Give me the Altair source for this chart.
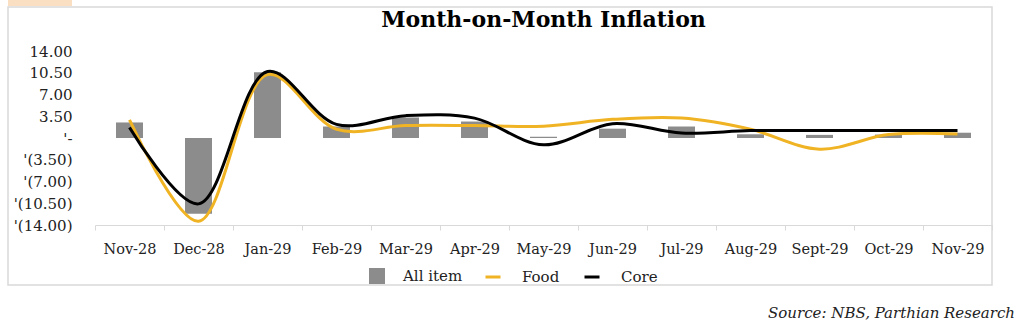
import json
import altair as alt
import pandas as pd

months = ["Nov-28", "Dec-28", "Jan-29", "Feb-29", "Mar-29", "Apr-29", "May-29",
          "Jun-29", "Jul-29", "Aug-29", "Sept-29", "Oct-29", "Nov-29"]
all_item = [2.5, -12.2, 10.6, 1.85, 3.3, 2.65, 0.2, 1.5, 1.85, 0.6, 0.5, 0.55, 0.85]
food = [2.9, -13.4, 10.2, 1.4, 2.0, 2.0, 1.9, 3.0, 3.2, 1.4, -1.8, 0.55, 0.65]
core = [1.7, -10.6, 10.7, 2.2, 3.6, 3.2, -1.1, 2.3, 0.8, 1.2, 1.2, 1.2, 1.2]

y_ticks = [-14, -10.5, -7, -3.5, 0, 3.5, 7, 10.5, 14]
y_tick_labels = ["'(14.00)", "'(10.50)", "'(7.00)", "'(3.50)", "'-",
                 "3.50", "7.00", "10.50", "14.00"]

bar_series = ["All item"]
line_series = ["Food", "Core"]
GRAY = "#8c8c8c"
YELLOW = "#F0B323"
BLACK = "#000000"
FONT = "DejaVu Serif"

df_bar = pd.DataFrame({"month": months, "value": all_item, "series": "All item"})
df_line = pd.concat([
    pd.DataFrame({"month": months, "value": food, "series": "Food"}),
    pd.DataFrame({"month": months, "value": core, "series": "Core"}),
])

label_expr = "{}[indexof({}, datum.value)]".format(
    json.dumps(y_tick_labels), json.dumps(y_ticks))

x_enc = alt.X("month:N", sort=months, title=None,
              scale=alt.Scale(type="band", paddingInner=0, paddingOuter=0),
              axis=alt.Axis(labelAngle=0, tickBand="extent", tickSize=5,
                            domainColor="#d9d9d9", tickColor="#d9d9d9",
                            labelFont=FONT, labelFontSize=14.5, labelColor="#222222",
                            labelPadding=12, grid=False))
y_enc = alt.Y("value:Q", title=None,
              scale=alt.Scale(domain=[-14, 14], nice=False, zero=False),
              axis=alt.Axis(values=y_ticks, tickCount=20, labelExpr=label_expr,
                            domain=False, ticks=False, grid=False, labelFont=FONT,
                            labelFontSize=15, labelColor="#222222", labelPadding=23,
                            labelOverlap=False))

bars = alt.Chart(df_bar).mark_bar(width=27).encode(
    x=x_enc, y=y_enc,
    fill=alt.Fill("series:N", scale=alt.Scale(domain=bar_series, range=[GRAY]),
                  legend=alt.Legend(orient="none", legendX=274, legendY=217, title=None,
                                    symbolType="square", symbolSize=256,
                                    symbolStrokeWidth=0, labelOffset=18,
                                    labelFont=FONT, labelFontSize=15,
                                    labelColor="#222222", padding=0)),
)

lines = alt.Chart(df_line).mark_line(interpolate="catmull-rom", strokeWidth=3).encode(
    x=alt.X("month:N", sort=months),
    y=alt.Y("value:Q"),
    stroke=alt.Stroke("series:N", scale=alt.Scale(domain=line_series, range=[YELLOW, BLACK]),
                      sort=line_series,
                      legend=alt.Legend(orient="none", legendX=389, legendY=217, title=None,
                                        direction="horizontal", symbolType="stroke",
                                        symbolSize=225, symbolStrokeWidth=3,
                                        labelOffset=20, columnPadding=18,
                                        labelFont=FONT, labelFontSize=15,
                                        labelColor="#222222", padding=0)),
    detail="series:N",
)

frame_df = pd.DataFrame({"k": [0]})
frame = alt.Chart(frame_df).mark_rect(filled=False, stroke="#d9d9d9", strokeWidth=1.5).encode(
    x=alt.value(-87), x2=alt.value(897), y=alt.value(-44), y2=alt.value(234)
)
tab = alt.Chart(frame_df).mark_rect(fill="#FADFC2").encode(
    x=alt.value(-87), x2=alt.value(-23), y=alt.value(-51), y2=alt.value(-45)
)
source = alt.Chart(frame_df).mark_text(
    font=FONT, fontStyle="italic", fontSize=15, align="right", baseline="middle",
    color="#222222"
).encode(x=alt.value(920), y=alt.value(262), text=alt.value("Source: NBS, Parthian Research"))

chart = alt.layer(frame, tab, bars, lines, source).properties(
    width=897, height=174,
    title=alt.TitleParams("Month-on-Month Inflation", font=FONT, fontWeight="bold",
                          fontSize=22, anchor="middle", color="#000000",
                          baseline="alphabetic", offset=24, dy=73),
    autosize=alt.AutoSizeParams(type="none"),
    padding={"left": 95, "top": 51, "right": 32, "bottom": 109},
).configure_view(stroke="transparent").configure_axisY(labelOverlap=False)

chart.save("out.html", embed_options={"renderer": "svg", "actions": False})
